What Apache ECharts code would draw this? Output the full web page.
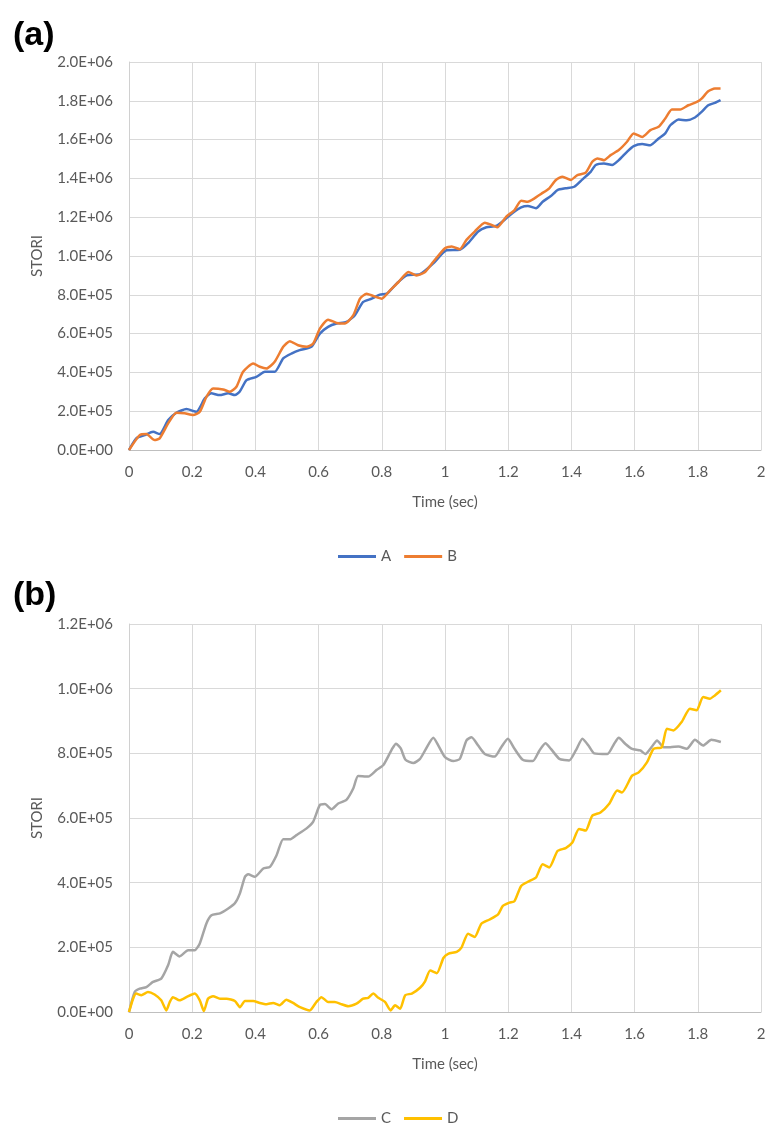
<!DOCTYPE html>
<html>
<head>
<meta charset="utf-8">
<script src="https://cdn.jsdelivr.net/npm/echarts@6/dist/echarts.min.js"></script>
<style>
  html, body { margin: 0; padding: 0; background: #fff; }
  #chart { width: 769px; height: 1125px; }
</style>
</head>
<body>
<div id="chart"></div>
<script>
// [time (sec), STORI]
var seriesA = [[0,0],[0.023,60000],[0.05,77000],[0.076,94000],[0.097,82000],[0.124,154000],[0.15,192000],[0.182,211000],[0.213,197000],[0.24,266000],[0.26,292000],[0.287,283000],[0.314,292000],[0.335,283000],[0.35,300000],[0.372,360000],[0.403,377000],[0.43,403000],[0.461,403000],[0.488,472000],[0.514,497000],[0.54,515000],[0.577,532000],[0.604,600000],[0.63,635000],[0.657,652000],[0.688,660000],[0.715,695000],[0.741,763000],[0.768,780000],[0.794,801000],[0.816,806000],[0.847,858000],[0.879,900000],[0.921,906000],[0.963,962000],[1.005,1030000],[1.047,1032000],[1.073,1066000],[1.105,1126000],[1.131,1148000],[1.162,1155000],[1.194,1194000],[1.215,1223000],[1.241,1251000],[1.262,1258000],[1.288,1246000],[1.309,1280000],[1.335,1309000],[1.356,1340000],[1.382,1349000],[1.409,1357000],[1.435,1395000],[1.461,1434000],[1.477,1469000],[1.503,1477000],[1.529,1469000],[1.55,1494000],[1.576,1537000],[1.597,1566000],[1.624,1577000],[1.65,1571000],[1.676,1606000],[1.697,1632000],[1.713,1674000],[1.739,1703000],[1.765,1700000],[1.791,1714000],[1.812,1743000],[1.833,1777000],[1.854,1789000],[1.872,1803000]];

var seriesB = [[0,0],[0.034,77000],[0.055,82000],[0.081,51000],[0.097,60000],[0.124,137000],[0.15,192000],[0.176,189000],[0.203,180000],[0.224,197000],[0.245,274000],[0.266,317000],[0.298,312000],[0.319,300000],[0.34,326000],[0.361,403000],[0.393,446000],[0.414,429000],[0.435,420000],[0.461,455000],[0.488,532000],[0.509,561000],[0.535,540000],[0.562,532000],[0.583,549000],[0.604,626000],[0.63,672000],[0.657,655000],[0.683,652000],[0.71,695000],[0.731,780000],[0.752,806000],[0.773,794000],[0.8,780000],[0.826,823000],[0.853,866000],[0.884,918000],[0.91,900000],[0.937,918000],[0.963,970000],[1.0,1040000],[1.021,1049000],[1.047,1035000],[1.068,1083000],[1.094,1126000],[1.126,1172000],[1.147,1160000],[1.165,1148000],[1.194,1203000],[1.22,1237000],[1.241,1285000],[1.262,1280000],[1.283,1297000],[1.304,1320000],[1.33,1349000],[1.351,1392000],[1.372,1409000],[1.398,1392000],[1.419,1417000],[1.445,1429000],[1.466,1486000],[1.482,1503000],[1.503,1494000],[1.524,1520000],[1.55,1546000],[1.576,1589000],[1.597,1632000],[1.624,1614000],[1.65,1649000],[1.676,1666000],[1.697,1709000],[1.718,1755000],[1.744,1755000],[1.77,1777000],[1.797,1794000],[1.812,1811000],[1.833,1849000],[1.854,1863000],[1.872,1863000]];

var seriesC = [[0,0],[0.018,62000],[0.034,72000],[0.055,77000],[0.076,93000],[0.102,103000],[0.124,145000],[0.139,186000],[0.16,172000],[0.187,191000],[0.208,191000],[0.224,212000],[0.245,274000],[0.261,299000],[0.288,305000],[0.314,320000],[0.335,336000],[0.351,367000],[0.367,418000],[0.377,426000],[0.398,418000],[0.425,444000],[0.446,449000],[0.467,485000],[0.488,534000],[0.509,534000],[0.53,547000],[0.562,568000],[0.583,589000],[0.604,640000],[0.62,643000],[0.641,627000],[0.662,645000],[0.688,656000],[0.71,692000],[0.725,730000],[0.757,728000],[0.784,749000],[0.805,764000],[0.82,790000],[0.831,811000],[0.845,830000],[0.86,815000],[0.875,780000],[0.9,770000],[0.921,783000],[0.937,809000],[0.963,848000],[0.979,824000],[1.0,788000],[1.026,776000],[1.047,783000],[1.068,840000],[1.084,850000],[1.105,824000],[1.126,798000],[1.157,790000],[1.178,819000],[1.199,845000],[1.22,814000],[1.246,780000],[1.278,776000],[1.299,809000],[1.318,831000],[1.335,814000],[1.362,783000],[1.393,778000],[1.414,809000],[1.435,845000],[1.456,821000],[1.472,800000],[1.514,798000],[1.535,829000],[1.55,848000],[1.571,829000],[1.592,814000],[1.618,809000],[1.634,798000],[1.655,821000],[1.671,840000],[1.692,819000],[1.713,819000],[1.739,821000],[1.765,814000],[1.791,842000],[1.817,824000],[1.843,842000],[1.873,835000]];

var seriesD = [[0,0],[0.013,41000],[0.023,57000],[0.039,52000],[0.06,62000],[0.081,54000],[0.102,36000],[0.118,5000],[0.129,31000],[0.139,46000],[0.16,36000],[0.182,46000],[0.208,57000],[0.224,36000],[0.237,3000],[0.25,41000],[0.266,49000],[0.288,41000],[0.309,41000],[0.335,34000],[0.351,15000],[0.367,34000],[0.393,34000],[0.414,28000],[0.435,24000],[0.456,28000],[0.477,21000],[0.498,38000],[0.519,28000],[0.541,15000],[0.572,5000],[0.593,31000],[0.609,46000],[0.63,31000],[0.651,31000],[0.673,24000],[0.694,18000],[0.72,26000],[0.741,41000],[0.757,44000],[0.773,57000],[0.789,44000],[0.81,31000],[0.828,5000],[0.842,21000],[0.858,10000],[0.874,52000],[0.895,57000],[0.921,75000],[0.937,95000],[0.953,128000],[0.974,120000],[0.995,167000],[1.01,180000],[1.037,186000],[1.052,199000],[1.073,242000],[1.094,232000],[1.115,273000],[1.141,286000],[1.168,302000],[1.183,328000],[1.204,338000],[1.22,343000],[1.241,390000],[1.267,405000],[1.288,416000],[1.309,457000],[1.33,447000],[1.356,498000],[1.382,507000],[1.403,524000],[1.424,566000],[1.445,561000],[1.466,607000],[1.492,617000],[1.519,643000],[1.545,685000],[1.56,679000],[1.592,731000],[1.613,741000],[1.639,772000],[1.66,814000],[1.686,819000],[1.702,876000],[1.723,871000],[1.749,897000],[1.775,938000],[1.796,933000],[1.817,974000],[1.838,969000],[1.854,979000],[1.873,995000]];

var namesTop = ['A', 'B'];
var namesBottom = ['C', 'D'];
var yMaxTop = 2000000;
var yMaxBottom = 1200000;

var textColor = '#595959';
var font = 'Lato';

function sciLabel(v) {
    if (v === 0) return '0.0E+00';
    var e = Math.floor(Math.log10(v) + 1e-9);
    var m = v / Math.pow(10, e);
    return m.toFixed(1) + 'E+' + (e < 10 ? '0' + e : e);
}

function makeX(idx) {
    return {
        type: 'value', gridIndex: idx, min: 0, max: 2, interval: 0.2,
        name: 'Time (sec)', nameLocation: 'middle', nameGap: 45,
        nameTextStyle: { color: textColor, fontFamily: font, fontSize: 15 },
        axisLine: { show: true, lineStyle: { color: '#BFBFBF', width: 1 } },
        axisTick: { show: false },
        axisLabel: { color: textColor, fontFamily: font, fontSize: 15, margin: 15 },
        splitLine: { show: true, lineStyle: { color: '#D9D9D9', width: 1 } }
    };
}

function makeY(idx, max) {
    return {
        type: 'value', gridIndex: idx, min: 0, max: max, interval: 200000,
        name: 'STORI', nameLocation: 'middle', nameGap: 84, nameRotate: 90,
        nameTextStyle: { color: textColor, fontFamily: font, fontSize: 15 },
        axisLine: { show: true, lineStyle: { color: '#D0D0D0', width: 1 } },
        axisTick: { show: false },
        axisLabel: { color: textColor, fontFamily: font, fontSize: 15, margin: 16, formatter: sciLabel },
        splitLine: { show: true, lineStyle: { color: '#D9D9D9', width: 1 } }
    };
}

function makeLine(name, data, color, idx) {
    return {
        name: name, type: 'line', data: data,
        xAxisIndex: idx, yAxisIndex: idx,
        showSymbol: false, smooth: 0.2,
        lineStyle: { color: color, width: 2.5 },
        itemStyle: { color: color }
    };
}

function makeLegend(names, top) {
    return {
        data: names, left: 333, top: top,
        icon: 'rect', itemWidth: 38, itemHeight: 3, itemGap: 13,
        textStyle: { color: textColor, fontFamily: font, fontSize: 15 }
    };
}

var chart = echarts.init(document.getElementById('chart'), null, { renderer: 'canvas' });
chart.setOption({
    animation: false,
    backgroundColor: '#fff',
    title: [
        { text: '(a)', left: 8, top: 14, textStyle: { fontFamily: 'Liberation Sans', fontWeight: 'bold', fontSize: 34, color: '#000' } },
        { text: '(b)', left: 8, top: 574, textStyle: { fontFamily: 'Liberation Sans', fontWeight: 'bold', fontSize: 34, color: '#000' } }
    ],
    legend: [makeLegend(namesTop, 544), makeLegend(namesBottom, 1106)],
    grid: [
        { left: 129, top: 62, width: 632, height: 388 },
        { left: 129, top: 624, width: 632, height: 388 }
    ],
    xAxis: [makeX(0), makeX(1)],
    yAxis: [makeY(0, yMaxTop), makeY(1, yMaxBottom)],
    series: [
        makeLine(namesTop[0], seriesA, '#4472C4', 0),
        makeLine(namesTop[1], seriesB, '#ED7D31', 0),
        makeLine(namesBottom[0], seriesC, '#A5A5A5', 1),
        makeLine(namesBottom[1], seriesD, '#FFC000', 1)
    ]
});
</script>
</body>
</html>
